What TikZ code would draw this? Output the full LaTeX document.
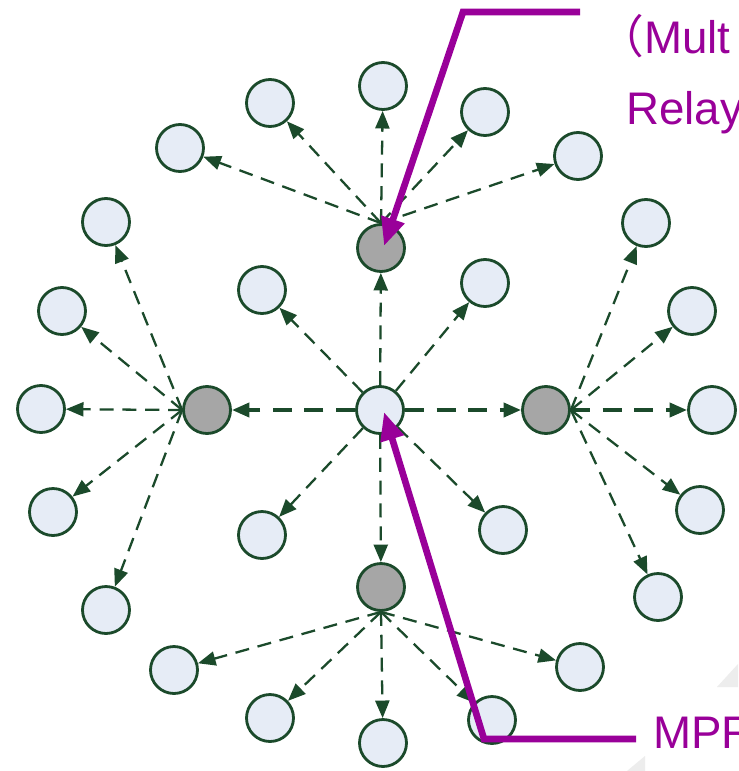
\documentclass[tikz,border=0pt]{standalone}
\usepackage{fontspec}
\setmainfont{Liberation Sans}
\newfontfamily\cjk{Noto Sans CJK SC}
\usetikzlibrary{arrows.meta}

\definecolor{linegreen}{HTML}{1B4A2B}
\definecolor{nodefill}{HTML}{E6ECF6}
\definecolor{relayfill}{HTML}{A6A6A6}
\definecolor{callout}{HTML}{990099}

\begin{document}
\begin{tikzpicture}[x=0.02cm,y=-0.02cm,
  leaf/.style={shape=circle,minimum size=0.94cm,inner sep=0pt,draw=linegreen,line width=1.6pt,fill=nodefill},
  relay/.style={leaf,fill=relayfill},
  linkarrow/.style={draw=linegreen,line width=1.3pt,dash pattern=on 8pt off 5pt,-{Triangle[length=10pt,width=8pt]}},
  mainarrow/.style={linkarrow,line width=2.2pt,dash pattern=on 11pt off 7pt},
  pointer/.style={draw=callout,line width=3.8pt,-{Triangle[length=16pt,width=13pt]}},
  callouttext/.style={text=callout,inner sep=0pt,anchor=base west,font=\fontsize{26}{30}\selectfont}]
\clip (0,0) rectangle (738,771);
\fill[white] (0,0) rectangle (738,771);
% faint slide corner marks
\fill[black!7] (717,687) -- (738,664) -- (738,687) -- cycle;
\fill[black!7] (627,771) -- (645,756) -- (645,771) -- cycle;

% source and its relays
\path (380,410) node (src) [leaf] {};
\path (381,248) node (rtop) [relay] {};
\path (207,410) node (rleft) [relay] {};
\path (546,410) node (rright) [relay] {};
\path (381,587) node (rbot) [relay] {};

% one-hop neighbours of the source
\path (262,290) node (nul) [leaf] {};
\path (485,283) node (nur) [leaf] {};
\path (262,535) node (nll) [leaf] {};
\path (503,530) node (nlr) [leaf] {};

% two-hop neighbours
\path (180,148) node (t1) [leaf] {};
\path (270,103) node (t2) [leaf] {};
\path (383,86) node (t3) [leaf] {};
\path (485,112) node (t4) [leaf] {};
\path (578,156) node (t5) [leaf] {};

\path (106,222) node (l1) [leaf] {};
\path (62,311) node (l2) [leaf] {};
\path (41,409) node (l3) [leaf] {};
\path (53,512) node (l4) [leaf] {};
\path (106,610) node (l5) [leaf] {};

\path (646,223) node (r1) [leaf] {};
\path (692,311) node (r2) [leaf] {};
\path (712,410) node (r3) [leaf] {};
\path (700,510) node (r4) [leaf] {};
\path (658,597) node (r5) [leaf] {};

\path (174,670) node (b1) [leaf] {};
\path (270,718) node (b2) [leaf] {};
\path (383,743) node (b3) [leaf] {};
\path (492,720) node (b4) [leaf] {};
\path (580,667) node (b5) [leaf] {};

\draw [linkarrow] (src) to (rtop);
\draw [linkarrow] (src) to (rbot);
\draw [mainarrow] (src) to (rleft);
\draw [mainarrow] (src) to (rright);
\draw [linkarrow] (src) to (nul);
\draw [linkarrow] (src) to (nur);
\draw [linkarrow] (src) to (nll);
\draw [linkarrow] (src) to (nlr);

% relay links fan out from the far side of each relay
\draw [linkarrow] (rtop.north) to (t1);
\draw [linkarrow] (rtop.north) to (t2);
\draw [linkarrow] (rtop.north) to (t3);
\draw [linkarrow] (rtop.north) to (t4);
\draw [linkarrow] (rtop.north) to (t5);

\draw [linkarrow] (rleft.west) to (l1);
\draw [linkarrow] (rleft.west) to (l2);
\draw [linkarrow] (rleft.west) to (l3);
\draw [linkarrow] (rleft.west) to (l4);
\draw [linkarrow] (rleft.west) to (l5);

\draw [linkarrow] (rright.east) to (r1);
\draw [linkarrow] (rright.east) to (r2);
\draw [mainarrow] (rright.east) to (r3);
\draw [linkarrow] (rright.east) to (r4);
\draw [linkarrow] (rright.east) to (r5);

\draw [linkarrow] (rbot.south) to (b1);
\draw [linkarrow] (rbot.south) to (b2);
\draw [linkarrow] (rbot.south) to (b3);
\draw [linkarrow] (rbot.south) to (b4);
\draw [linkarrow] (rbot.south) to (b5);

% callouts
\coordinate (topend) at (580,12);
\coordinate (topbend) at (463,12);
\coordinate (topaim) at (384,246);
\coordinate (botend) at (636,739);
\coordinate (botbend) at (484,739);
\coordinate (botaim) at (384,412);
\draw [pointer] (topend) -- (topbend) -- (topaim);
\draw [pointer] (botend) -- (botbend) -- (botaim);

\path (598,53) node (multitext) [callouttext] {{\cjk （}Mult};
\path (626,124) node (relaytext) [callouttext] {Relay};
\path (653,748) node (mprtext) [callouttext] {MPR};
\end{tikzpicture}
\end{document}
